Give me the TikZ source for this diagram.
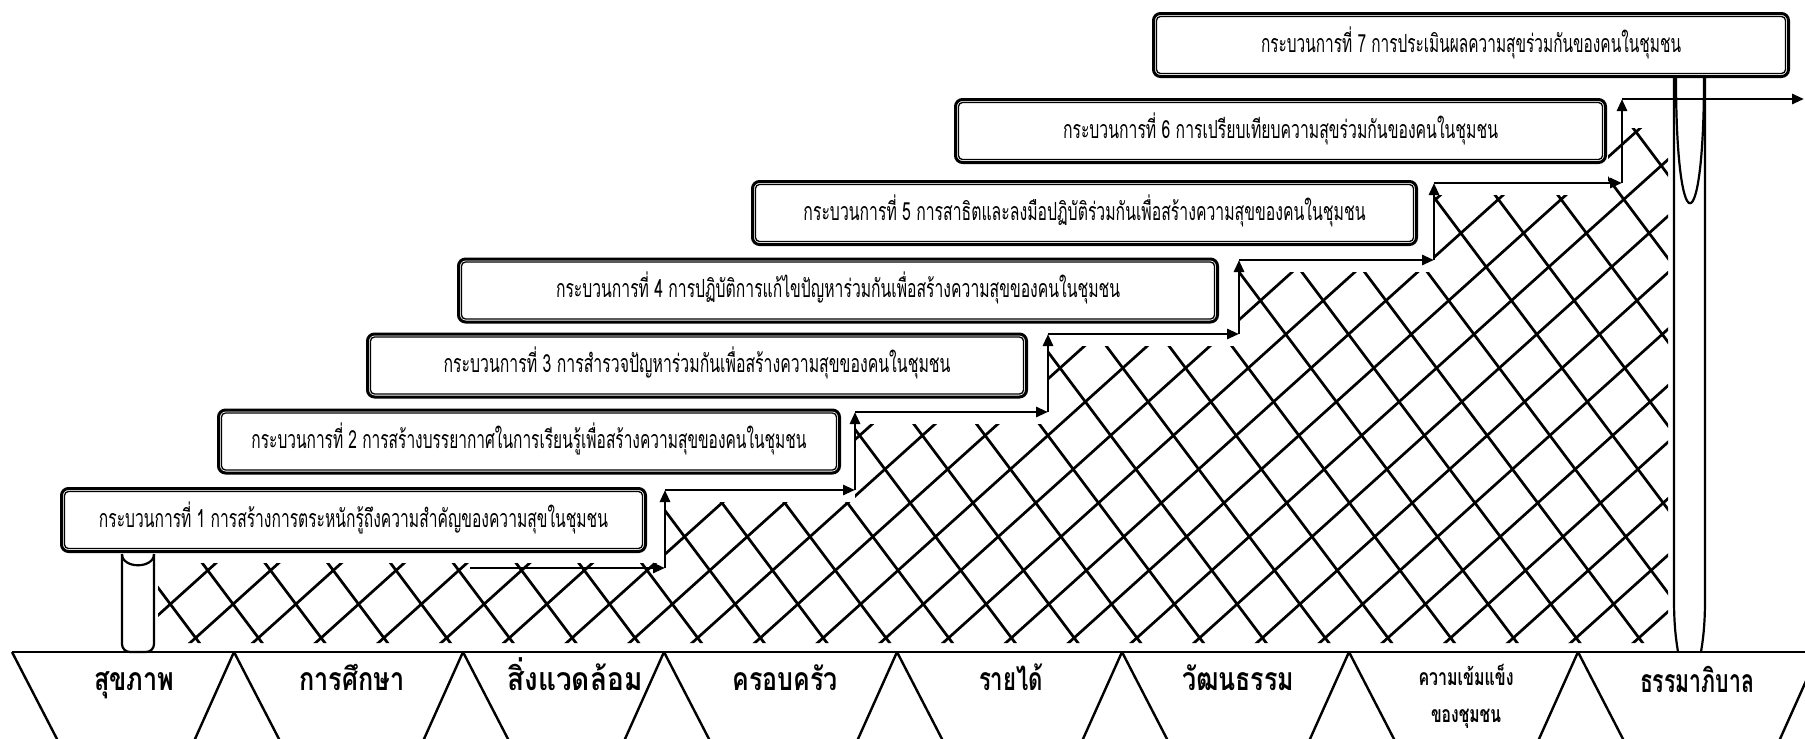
\documentclass[tikz,border=0pt]{standalone}
\usepackage{fontspec}
\usepackage{graphicx}
\newfontfamily\thaifont[Script=Thai]{Loma}
\usetikzlibrary{arrows.meta}
\newcommand\fitw[2]{\resizebox{#1}{\height}{#2}}
\tikzset{
  hatchline/.style={line width=2.7pt, line cap=round},
  pillar/.style={line width=2.2pt},
  procbox/.style={draw, line width=3pt, rounded corners=7pt, fill=white, inner sep=0pt,
    minimum height=63pt, text height=14pt, text depth=0pt,
    font=\thaifont\fontsize{25}{27}\selectfont},
  innerframe/.style={line width=1.3pt, rounded corners=4pt},
  steparrow/.style={line width=2.8pt, -{Triangle[length=12pt,width=10pt]}},
  baseln/.style={line width=2.2pt},
  tzline/.style={line width=2.4pt},
  lbl/.style={inner sep=0pt, anchor=base, font=\thaifont\bfseries\fontsize{32}{34}\selectfont},
  lblsmall/.style={inner sep=0pt, anchor=base, font=\thaifont\bfseries\fontsize{23}{25}\selectfont}
}
\begin{document}
\begin{tikzpicture}[x=1pt,y=-1pt]
\useasboundingbox (0,0) rectangle (1805,739);
\clip (0,0) rectangle (1805,739);
\fill[white] (0,0) rectangle (1805,739);

% cross-hatching under the staircase
\begin{scope}
\clip (158,563) -- (665,563) -- (665,502) -- (855,502) -- (855,424) -- (1048,424)
  -- (1048,346) -- (1239,346) -- (1239,272) -- (1434,272) -- (1434,195) -- (1608,195)
  -- (1608,128) -- (1668,128) -- (1668,643) -- (158,643) -- cycle;
\foreach \k in {-20,...,17}
  \draw[hatchline] ({1406+62.75*\k},0) -- ({1406+62.75*\k-820.7},739);
\foreach \k in {-15,...,18}
  \draw[hatchline] ({533+62.75*\k},0) -- ({533+62.75*\k+554.25},739);
\end{scope}

% left pillar
\draw[pillar, rounded corners=8pt] (122,554) -- (122,652) -- (154,652) -- (154,554);
\draw[pillar] (122,554) .. controls (122,569) and (154,569) .. (154,554);

% right pillar
\draw[pillar] (1674,70) -- (1674,600) .. controls (1674,630) and (1677,645) .. (1678,652);
\draw[pillar] (1705,70) -- (1705,600) .. controls (1705,630) and (1702,645) .. (1701,652);
\draw[pillar] (1676,78) .. controls (1676,245) and (1704,245) .. (1704,78);

% process boxes
\node[procbox, minimum width=584pt] (b1) at (353.5,520)
  {\fitw{509pt}{กระบวนการที่ 1 การสร้างการตระหนักรู้ถึงความสำคัญของความสุขในชุมชน}};
\node[procbox, minimum width=621pt] (b2) at (529,441.5)
  {\fitw{555pt}{กระบวนการที่ 2 การสร้างบรรยากาศในการเรียนรู้เพื่อสร้างความสุขของคนในชุมชน}};
\node[procbox, minimum width=659pt] (b3) at (697,365.5)
  {\fitw{507pt}{กระบวนการที่ 3 การสำรวจปัญหาร่วมกันเพื่อสร้างความสุขของคนในชุมชน}};
\node[procbox, minimum width=759pt] (b4) at (838,290.5)
  {\fitw{564pt}{กระบวนการที่ 4 การปฏิบัติการแก้ไขปัญหาร่วมกันเพื่อสร้างความสุขของคนในชุมชน}};
\node[procbox, minimum width=664pt] (b5) at (1084.5,213)
  {\fitw{562pt}{กระบวนการที่ 5 การสาธิตและลงมือปฏิบัติร่วมกันเพื่อสร้างความสุขของคนในชุมชน}};
\node[procbox, minimum width=650pt] (b6) at (1280.5,131)
  {\fitw{435pt}{กระบวนการที่ 6 การเปรียบเทียบความสุขร่วมกันของคนในชุมชน}};
\node[procbox, minimum width=635pt] (b7) at (1471,45)
  {\fitw{420pt}{กระบวนการที่ 7 การประเมินผลความสุขร่วมกันของคนในชุมชน}};
\foreach \b in {b1,b2,b3,b4,b5,b6,b7}
  \draw[innerframe] ([shift={(4.5,4.5)}]\b.north west) rectangle ([shift={(-4.5,-4.5)}]\b.south east);

% staircase of arrows
\coordinate (s0) at (470,568);
\coordinate (c1) at (665,568);  \coordinate (c1t) at (665,490);
\coordinate (c2) at (855,490);  \coordinate (c2t) at (855,412);
\coordinate (c3) at (1048,412); \coordinate (c3t) at (1048,334);
\coordinate (c4) at (1239,334); \coordinate (c4t) at (1239,260);
\coordinate (c5) at (1434,260); \coordinate (c5t) at (1434,183);
\coordinate (c6) at (1622,183); \coordinate (c6t) at (1622,99);
\coordinate (c7) at (1804,99);
\draw[steparrow] (s0) -- (c1);
\draw[steparrow] (c1) -- (c1t);
\draw[steparrow] (c1t) -- (c2);
\draw[steparrow] (c2) -- (c2t);
\draw[steparrow] (c2t) -- (c3);
\draw[steparrow] (c3) -- (c3t);
\draw[steparrow] (c3t) -- (c4);
\draw[steparrow] (c4) -- (c4t);
\draw[steparrow] (c4t) -- (c5);
\draw[steparrow] (c5) -- (c5t);
\draw[steparrow] (c5t) -- (c6);
\draw[steparrow] (c6) -- (c6t);
\draw[steparrow] (c6t) -- (c7);

% bottom row of funnels
\draw[baseln] (12,652) -- (1805,652);
\draw[tzline] (12,652) -- ++(48.1,93);
\foreach \a in {234,463,664,897,1122,1349,1578} {
  \draw[tzline] (\a,652) -- ++(-41.7,93);
  \draw[tzline] (\a,652) -- ++(48.1,93);
}
\draw[tzline] (1819,652) -- ++(-41.7,93);

\node[lbl] (l1) at (134,690) {\fitw{80pt}{สุขภาพ}};
\node[lbl] (l2) at (352,690) {\fitw{105pt}{การศึกษา}};
\node[lbl] (l3) at (575,690) {\fitw{135pt}{สิ่งแวดล้อม}};
\node[lbl] (l4) at (785,690) {\fitw{105pt}{ครอบครัว}};
\node[lbl] (l5) at (1011,690) {\fitw{64pt}{รายได้}};
\node[lbl] (l6) at (1238,690) {\fitw{112pt}{วัฒนธรรม}};
\node[lblsmall] (l7a) at (1466,685) {\fitw{95pt}{ความเข้มแข็ง}};
\node[lblsmall] (l7b) at (1466,722) {\fitw{70pt}{ของชุมชน}};
\node[lbl] (l8) at (1697,692) {\fitw{114pt}{ธรรมาภิบาล}};
\end{tikzpicture}
\end{document}
